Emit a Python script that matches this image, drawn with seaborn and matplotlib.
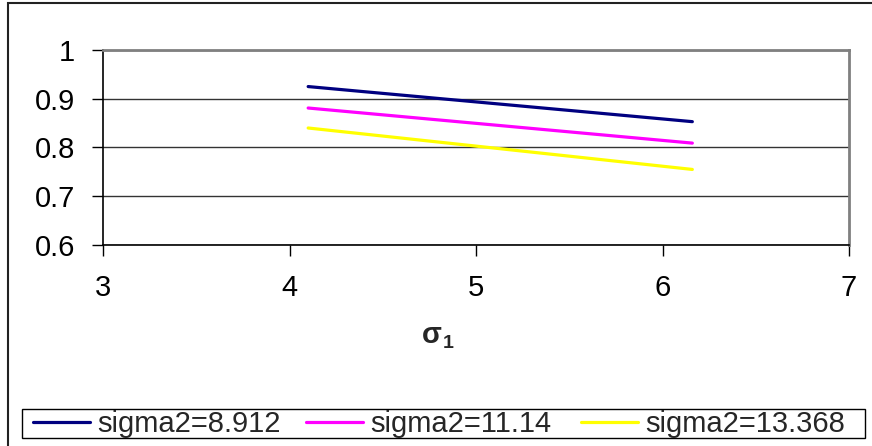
import matplotlib
matplotlib.use("Agg")
import matplotlib.pyplot as plt
import seaborn as sns
import pandas as pd
from matplotlib.patches import Rectangle

# sigma1 values and the resulting ratio for each sigma2 setting
sigma1 = [4.1, 6.16]
ratio_8912 = [0.925, 0.853]
ratio_1114 = [0.881, 0.809]
ratio_13368 = [0.840, 0.755]
series_names = ["sigma2=8.912", "sigma2=11.14", "sigma2=13.368"]
series_colors = ["#000080", "#FF00FF", "#FFFF00"]
x_ticks = [3, 4, 5, 6, 7]
y_ticks = [0.6, 0.7, 0.8, 0.9, 1.0]
y_tick_labels = ["0.6", "0.7", "0.8", "0.9", "1"]

df = pd.concat([
    pd.DataFrame({"sigma1": sigma1, "ratio": vals, "series": name})
    for name, vals in zip(series_names, [ratio_8912, ratio_1114, ratio_13368])
], ignore_index=True)

sns.set_style("white")
plt.rcParams["font.family"] = ["Liberation Sans", "DejaVu Sans"]

W, H = 872, 446
fig = plt.figure(figsize=(W / 100, H / 100), dpi=100)
fig.patch.set_facecolor("white")

# plot area in pixel coordinates
left, right, top, bottom = 103, 849, 50, 245
ax = fig.add_axes([left / W, 1 - bottom / H, (right - left) / W, (bottom - top) / H])

sns.lineplot(data=df, x="sigma1", y="ratio", hue="series", hue_order=series_names,
             palette=series_colors, linewidth=2.3, ax=ax, legend=False)

ax.set_xlim(3, 7)
ax.set_ylim(0.6, 1.0)
ax.set_xticks(x_ticks)
ax.set_xticklabels([str(t) for t in x_ticks])
ax.set_yticks(y_ticks)
ax.set_yticklabels(y_tick_labels)
ax.yaxis.grid(True, color="#333333", linewidth=1.0)
ax.xaxis.grid(False)
ax.set_axisbelow(True)

ax.tick_params(axis="both", direction="out", length=8, width=1.0, color="black",
               labelsize=21, labelcolor="black", left=True, bottom=True)
ax.tick_params(axis="x", pad=13)
ax.tick_params(axis="y", pad=12)

for side in ["left", "bottom"]:
    ax.spines[side].set_color("black")
    ax.spines[side].set_linewidth(1.2)
for side in ["top", "right"]:
    ax.spines[side].set_visible(True)
    ax.spines[side].set_color("#808080")
    ax.spines[side].set_linewidth(2.0)

ax.set_ylabel("")
ax.set_xlabel("")

# axis title: bold sigma with subscript 1
fig.text(422 / W, 1 - 343 / H, "σ", fontsize=21, fontweight="bold",
         ha="left", va="baseline")
fig.text(443 / W, 1 - 348 / H, "1", fontsize=14, fontweight="bold",
         ha="left", va="baseline")

# legend along the bottom of the chart: one entry per slot
legend_fs = 21
em = legend_fs * 100 / 72
entry_x = [33, 306, 581]
for name, color, x0 in zip(series_names, series_colors, entry_x):
    h = plt.Line2D([], [], color=color, linewidth=2.3)
    fig.legend([h], [name], loc="center left", bbox_to_anchor=(x0 / W, 1 - 424 / H),
               fontsize=legend_fs, frameon=False, handlelength=57 / em,
               handletextpad=7 / em, borderpad=0, borderaxespad=0)

fig.patches.append(Rectangle((22 / W, 1 - 438 / H), (865 - 22) / W, 29 / H,
                             transform=fig.transFigure, fill=False,
                             edgecolor="black", linewidth=1.0))

# outer chart border
fig.patches.append(Rectangle((8 / W, -0.05), 1.1, 1 - 3 / H + 0.05,
                             transform=fig.transFigure, fill=False,
                             edgecolor="#222222", linewidth=1.5))

fig.savefig("out.png", dpi=100, facecolor="white")
